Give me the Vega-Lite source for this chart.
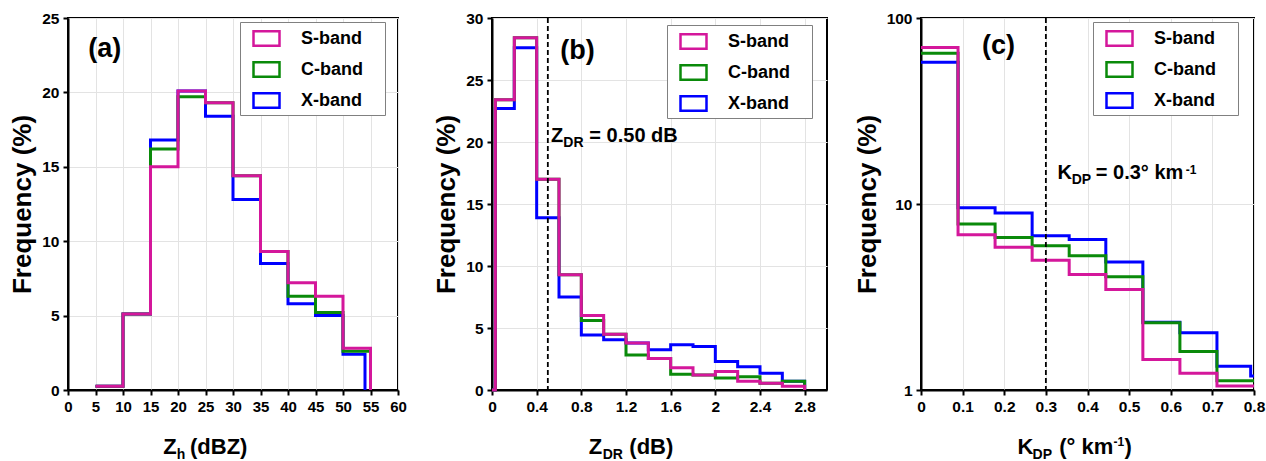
{
  "$schema": "https://vega.github.io/schema/vega-lite/v6.json",
  "background": "white",
  "padding": {"left": 8, "top": 10, "right": 0, "bottom": 0},
  "bounds": "flush",
  "spacing": 94,
  "resolve": {"scale": {"color": "independent"}, "legend": {"color": "independent"}},
  "config": {
    "font": "Liberation Sans",
    "view": {"stroke": "black", "strokeWidth": 2},
    "axis": {
      "domainColor": "black", "domainWidth": 2,
      "tickColor": "black", "tickWidth": 2, "tickSize": 5,
      "labelFont": "Liberation Sans", "labelFontSize": 15.5, "labelFontWeight": "bold", "labelColor": "black", "labelPadding": 4,
      "labelOverlap": false, "labelFlush": false, "labelSeparation": 0,
      "gridColor": "#e3e3e3", "gridWidth": 1,
      "titleFont": "Liberation Sans", "titleFontSize": 26, "titleFontWeight": "bold", "titleColor": "black"
    },
    "legend": {
      "titleOrient": "right", "titlePadding": 20, "titleFontSize": 18, "titleColor": "white",
      "symbolType": "M-1,-0.55H1V0.55H-1Z",
      "symbolSize": 676,
      "symbolStrokeWidth": 2.5,
      "labelFont": "Liberation Sans", "labelFontSize": 18, "labelFontWeight": "bold", "labelColor": "black",
      "labelOffset": 20, "rowPadding": 4, "padding": 2, "symbolOffset": 10,
      "strokeColor": "#808080", "fillColor": "white"
    },
    "text": {"font": "Liberation Sans", "fontWeight": "bold", "color": "black"}
  },
  "datasets": {
    "a": [
      {"band": "X-band", "x": 5, "y": 0.25}, {"band": "X-band", "x": 10, "y": 5.1}, {"band": "X-band", "x": 15, "y": 16.8}, {"band": "X-band", "x": 20, "y": 20.1}, {"band": "X-band", "x": 25, "y": 18.4}, {"band": "X-band", "x": 30, "y": 12.8}, {"band": "X-band", "x": 35, "y": 8.5}, {"band": "X-band", "x": 40, "y": 5.8}, {"band": "X-band", "x": 45, "y": 5.0}, {"band": "X-band", "x": 50, "y": 2.4}, {"band": "X-band", "x": 54, "y": 0},
      {"band": "C-band", "x": 5, "y": 0.25}, {"band": "C-band", "x": 10, "y": 5.1}, {"band": "C-band", "x": 15, "y": 16.2}, {"band": "C-band", "x": 20, "y": 19.7}, {"band": "C-band", "x": 25, "y": 19.3}, {"band": "C-band", "x": 30, "y": 14.4}, {"band": "C-band", "x": 35, "y": 9.3}, {"band": "C-band", "x": 40, "y": 6.3}, {"band": "C-band", "x": 45, "y": 5.2}, {"band": "C-band", "x": 50, "y": 2.6}, {"band": "C-band", "x": 55, "y": 0},
      {"band": "S-band", "x": 5, "y": 0.25}, {"band": "S-band", "x": 10, "y": 5.1}, {"band": "S-band", "x": 15, "y": 15.0}, {"band": "S-band", "x": 20, "y": 20.1}, {"band": "S-band", "x": 25, "y": 19.3}, {"band": "S-band", "x": 30, "y": 14.4}, {"band": "S-band", "x": 35, "y": 9.3}, {"band": "S-band", "x": 40, "y": 7.2}, {"band": "S-band", "x": 45, "y": 6.3}, {"band": "S-band", "x": 50, "y": 2.8}, {"band": "S-band", "x": 55, "y": 0}
    ],
    "b": [
      {"band": "X-band", "x": 0, "y": 0}, {"band": "X-band", "x": 0.03, "y": 22.7}, {"band": "X-band", "x": 0.2, "y": 27.6}, {"band": "X-band", "x": 0.4, "y": 13.9}, {"band": "X-band", "x": 0.6, "y": 7.5}, {"band": "X-band", "x": 0.8, "y": 4.43}, {"band": "X-band", "x": 1.0, "y": 4.05}, {"band": "X-band", "x": 1.2, "y": 3.8}, {"band": "X-band", "x": 1.4, "y": 3.25}, {"band": "X-band", "x": 1.6, "y": 3.65}, {"band": "X-band", "x": 1.8, "y": 3.5}, {"band": "X-band", "x": 2.0, "y": 2.3}, {"band": "X-band", "x": 2.2, "y": 1.88}, {"band": "X-band", "x": 2.4, "y": 1.35}, {"band": "X-band", "x": 2.6, "y": 0.7}, {"band": "X-band", "x": 2.8, "y": 0},
      {"band": "C-band", "x": 0, "y": 0}, {"band": "C-band", "x": 0.03, "y": 23.4}, {"band": "C-band", "x": 0.2, "y": 28.4}, {"band": "C-band", "x": 0.4, "y": 17.0}, {"band": "C-band", "x": 0.6, "y": 9.3}, {"band": "C-band", "x": 0.8, "y": 5.6}, {"band": "C-band", "x": 1.0, "y": 4.5}, {"band": "C-band", "x": 1.2, "y": 2.82}, {"band": "C-band", "x": 1.4, "y": 2.55}, {"band": "C-band", "x": 1.6, "y": 1.27}, {"band": "C-band", "x": 1.8, "y": 1.2}, {"band": "C-band", "x": 2.0, "y": 0.97}, {"band": "C-band", "x": 2.2, "y": 1.07}, {"band": "C-band", "x": 2.4, "y": 0.55}, {"band": "C-band", "x": 2.6, "y": 0.7}, {"band": "C-band", "x": 2.8, "y": 0},
      {"band": "S-band", "x": 0, "y": 0}, {"band": "S-band", "x": 0.03, "y": 23.4}, {"band": "S-band", "x": 0.2, "y": 28.4}, {"band": "S-band", "x": 0.4, "y": 17.0}, {"band": "S-band", "x": 0.6, "y": 9.3}, {"band": "S-band", "x": 0.8, "y": 6.0}, {"band": "S-band", "x": 1.0, "y": 4.5}, {"band": "S-band", "x": 1.2, "y": 3.8}, {"band": "S-band", "x": 1.4, "y": 2.55}, {"band": "S-band", "x": 1.6, "y": 1.8}, {"band": "S-band", "x": 1.8, "y": 1.2}, {"band": "S-band", "x": 2.0, "y": 1.5}, {"band": "S-band", "x": 2.2, "y": 0.7}, {"band": "S-band", "x": 2.4, "y": 0.55}, {"band": "S-band", "x": 2.6, "y": 0.3}, {"band": "S-band", "x": 2.8, "y": 0}
    ],
    "c": [
      {"band": "X-band", "x": 0, "y": 57.8}, {"band": "X-band", "x": 0.089, "y": 9.55}, {"band": "X-band", "x": 0.178, "y": 8.95}, {"band": "X-band", "x": 0.267, "y": 6.76}, {"band": "X-band", "x": 0.356, "y": 6.45}, {"band": "X-band", "x": 0.444, "y": 4.88}, {"band": "X-band", "x": 0.533, "y": 2.31}, {"band": "X-band", "x": 0.622, "y": 2.03}, {"band": "X-band", "x": 0.711, "y": 1.34}, {"band": "X-band", "x": 0.792, "y": 1.19}, {"band": "X-band", "x": 0.8, "y": 1.19},
      {"band": "C-band", "x": 0, "y": 64.6}, {"band": "C-band", "x": 0.089, "y": 7.8}, {"band": "C-band", "x": 0.178, "y": 6.6}, {"band": "C-band", "x": 0.267, "y": 5.97}, {"band": "C-band", "x": 0.356, "y": 5.27}, {"band": "C-band", "x": 0.444, "y": 4.06}, {"band": "C-band", "x": 0.533, "y": 2.3}, {"band": "C-band", "x": 0.622, "y": 1.61}, {"band": "C-band", "x": 0.711, "y": 1.12}, {"band": "C-band", "x": 0.8, "y": 1.12},
      {"band": "S-band", "x": 0, "y": 69.5}, {"band": "S-band", "x": 0.089, "y": 6.84}, {"band": "S-band", "x": 0.178, "y": 5.85}, {"band": "S-band", "x": 0.267, "y": 4.98}, {"band": "S-band", "x": 0.356, "y": 4.18}, {"band": "S-band", "x": 0.444, "y": 3.47}, {"band": "S-band", "x": 0.533, "y": 1.46}, {"band": "S-band", "x": 0.622, "y": 1.23}, {"band": "S-band", "x": 0.711, "y": 1.05}, {"band": "S-band", "x": 0.8, "y": 1.05}
    ]
  },
  "hconcat": [
    {
      "width": 330, "height": 372,
      "layer": [
        {
          "data": {"name": "a"},
          "mark": {"type": "line", "interpolate": "step-after", "strokeWidth": 3},
          "encoding": {
            "x": {"field": "x", "type": "quantitative", "scale": {"domain": [0, 60], "nice": false, "zero": false},
                  "axis": {"values": [0,5,10,15,20,25,30,35,40,45,50,55,60], "title": null, "labelOverlap": false, "labelFontSize": 15}},
            "y": {"field": "y", "type": "quantitative", "scale": {"domain": [0, 25], "nice": false},
                  "axis": {"values": [0,5,10,15,20,25], "title": "Frequency (%)", "titlePadding": 6}},
            "color": {"field": "band", "type": "nominal",
                      "scale": {"domain": ["S-band", "C-band", "X-band"], "range": ["#d4179b", "#0a8a0a", "#0000ff"]},
                      "legend": {"orient": "none", "legendX": 172, "legendY": 4, "title": "\u00a0"}}
          }
        },
        {"data": {"values": [{}]}, "mark": {"type": "text", "text": "(a)", "fontSize": 27, "align": "center", "baseline": "middle"},
         "encoding": {"x": {"datum": 6.7, "axis": {"values": [0,5,10,15,20,25,30,35,40,45,50,55,60], "title": null, "labelOverlap": false, "labelFontSize": 15}}, "y": {"datum": 22.9}}},
        {"data": {"values": [{}]}, "mark": {"type": "text", "text": "Z", "fontSize": 22, "align": "left", "baseline": "alphabetic"},
         "encoding": {"x": {"datum": 17.33, "axis": {"values": [0,5,10,15,20,25,30,35,40,45,50,55,60], "title": null, "labelOverlap": false, "labelFontSize": 15}}, "y": {"datum": -4.3}}},
        {"data": {"values": [{}]}, "mark": {"type": "text", "text": "h", "fontSize": 14, "align": "left", "baseline": "alphabetic"},
         "encoding": {"x": {"datum": 19.76, "axis": {"values": [0,5,10,15,20,25,30,35,40,45,50,55,60], "title": null, "labelOverlap": false, "labelFontSize": 15}}, "y": {"datum": -4.64}}},
        {"data": {"values": [{}]}, "mark": {"type": "text", "text": "(dBZ)", "fontSize": 22, "align": "left", "baseline": "alphabetic"},
         "encoding": {"x": {"datum": 22.18, "axis": {"values": [0,5,10,15,20,25,30,35,40,45,50,55,60], "title": null, "labelOverlap": false, "labelFontSize": 15}}, "y": {"datum": -4.3}}}
      ]
    },
    {
      "width": 335, "height": 372,
      "layer": [
        {
          "data": {"name": "b"},
          "mark": {"type": "line", "interpolate": "step-after", "strokeWidth": 3},
          "encoding": {
            "x": {"field": "x", "type": "quantitative", "scale": {"domain": [0, 3.0], "nice": false, "zero": false},
                  "axis": {"values": [0,0.2,0.4,0.6,0.8,1.0,1.2,1.4,1.6,1.8,2.0,2.2,2.4,2.6,2.8,3.0], "title": null, "format": "~g",
                           "labelExpr": "(round(datum.value*10) % 4 == 0 && datum.value < 2.9) ? datum.label : ''"}},
            "y": {"field": "y", "type": "quantitative", "scale": {"domain": [0, 30], "nice": false},
                  "axis": {"values": [0,5,10,15,20,25,30], "title": "Frequency (%)", "titlePadding": 6}},
            "color": {"field": "band", "type": "nominal",
                      "scale": {"domain": ["S-band", "C-band", "X-band"], "range": ["#d4179b", "#0a8a0a", "#0000ff"]},
                      "legend": {"orient": "none", "legendX": 175, "legendY": 7, "title": "\u00a0"}}
          }
        },
        {"data": {"values": [{}]}, "mark": {"type": "rule", "strokeDash": [5, 3], "strokeWidth": 1.8, "color": "black"},
         "encoding": {"x": {"datum": 0.5}}},
        {"data": {"values": [{}]}, "mark": {"type": "text", "text": "(b)", "fontSize": 27, "align": "center", "baseline": "middle"},
         "encoding": {"x": {"datum": 0.765}, "y": {"datum": 27.3}}},
        {"data": {"values": [{}]}, "mark": {"type": "text", "text": "Z", "fontSize": 20, "align": "left", "baseline": "alphabetic"},
         "encoding": {"x": {"datum": 0.529}, "y": {"datum": 20.0}}},
        {"data": {"values": [{}]}, "mark": {"type": "text", "text": "DR", "fontSize": 14, "align": "left", "baseline": "alphabetic"},
         "encoding": {"x": {"datum": 0.639}, "y": {"datum": 19.57}}},
        {"data": {"values": [{}]}, "mark": {"type": "text", "text": "= 0.50 dB", "fontSize": 20, "align": "left", "baseline": "alphabetic"},
         "encoding": {"x": {"datum": 0.872}, "y": {"datum": 20.0}}},
        {"data": {"values": [{}]}, "mark": {"type": "text", "text": "Z", "fontSize": 22, "align": "left", "baseline": "alphabetic"},
         "encoding": {"x": {"datum": 0.866}, "y": {"datum": -5.16}}},
        {"data": {"values": [{}]}, "mark": {"type": "text", "text": "DR", "fontSize": 14, "align": "left", "baseline": "alphabetic"},
         "encoding": {"x": {"datum": 0.991}, "y": {"datum": -5.56}}},
        {"data": {"values": [{}]}, "mark": {"type": "text", "text": "(dB)", "fontSize": 22, "align": "left", "baseline": "alphabetic"},
         "encoding": {"x": {"datum": 1.23}, "y": {"datum": -5.16}}}
      ]
    },
    {
      "width": 333, "height": 372,
      "layer": [
        {
          "data": {"name": "c"},
          "mark": {"type": "line", "interpolate": "step-after", "strokeWidth": 3},
          "encoding": {
            "x": {"field": "x", "type": "quantitative", "scale": {"domain": [0, 0.8], "nice": false, "zero": false},
                  "axis": {"values": [0,0.1,0.2,0.3,0.4,0.5,0.6,0.7,0.8], "title": null, "format": "~g"}},
            "y": {"field": "y", "type": "quantitative", "scale": {"type": "log", "domain": [1, 100], "nice": false},
                  "axis": {"values": [1,10,100], "format": "d", "title": "Frequency (%)", "titlePadding": 6}},
            "color": {"field": "band", "type": "nominal",
                      "scale": {"domain": ["S-band", "C-band", "X-band"], "range": ["#d4179b", "#0a8a0a", "#0000ff"]},
                      "legend": {"orient": "none", "legendX": 172, "legendY": 4, "title": "\u00a0"}}
          }
        },
        {"data": {"values": [{}]}, "mark": {"type": "rule", "strokeDash": [5, 3], "strokeWidth": 1.8, "color": "black"},
         "encoding": {"x": {"datum": 0.3}}},
        {"data": {"values": [{}]}, "mark": {"type": "text", "text": "(c)", "fontSize": 27, "align": "center", "baseline": "middle"},
         "encoding": {"x": {"datum": 0.186}, "y": {"datum": 70.7}}},
        {"data": {"values": [{}]}, "mark": {"type": "text", "text": "K", "fontSize": 20, "align": "left", "baseline": "alphabetic"},
         "encoding": {"x": {"datum": 0.328}, "y": {"datum": 13.63}}},
        {"data": {"values": [{}]}, "mark": {"type": "text", "text": "DP", "fontSize": 14, "align": "left", "baseline": "alphabetic"},
         "encoding": {"x": {"datum": 0.362}, "y": {"datum": 12.81}}},
        {"data": {"values": [{}]}, "mark": {"type": "text", "text": "= 0.3° km", "fontSize": 20, "align": "left", "baseline": "alphabetic"},
         "encoding": {"x": {"datum": 0.42}, "y": {"datum": 13.63}}},
        {"data": {"values": [{}]}, "mark": {"type": "text", "text": "-1", "fontSize": 12, "align": "left", "baseline": "alphabetic"},
         "encoding": {"x": {"datum": 0.636}, "y": {"datum": 14.45}}},
        {"data": {"values": [{}]}, "mark": {"type": "text", "text": "K", "fontSize": 22, "align": "left", "baseline": "alphabetic"},
         "encoding": {"x": {"datum": 0.232}, "y": {"datum": 0.453}}},
        {"data": {"values": [{}]}, "mark": {"type": "text", "text": "DP", "fontSize": 14, "align": "left", "baseline": "alphabetic"},
         "encoding": {"x": {"datum": 0.268}, "y": {"datum": 0.4256}}},
        {"data": {"values": [{}]}, "mark": {"type": "text", "text": "(° km", "fontSize": 22, "align": "left", "baseline": "alphabetic"},
         "encoding": {"x": {"datum": 0.332}, "y": {"datum": 0.453}}},
        {"data": {"values": [{}]}, "mark": {"type": "text", "text": "-1", "fontSize": 12, "align": "left", "baseline": "alphabetic"},
         "encoding": {"x": {"datum": 0.4627}, "y": {"datum": 0.5}}},
        {"data": {"values": [{}]}, "mark": {"type": "text", "text": ")", "fontSize": 22, "align": "left", "baseline": "alphabetic"},
         "encoding": {"x": {"datum": 0.489}, "y": {"datum": 0.453}}}
      ]
    }
  ]
}
